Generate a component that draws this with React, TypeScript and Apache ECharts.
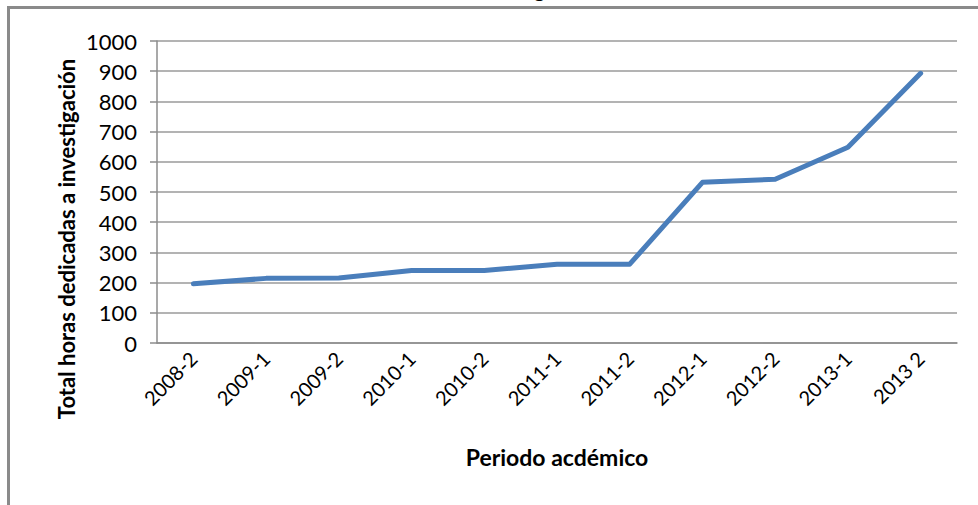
import React, { useEffect, useRef } from "react";
import * as echarts from "echarts";

const categories = ["2008-2", "2009-1", "2009-2", "2010-1", "2010-2", "2011-1", "2011-2", "2012-1", "2012-2", "2013-1", "2013 2"];
const hours = [196, 214, 215, 240, 240, 261, 261, 532, 542, 648, 893];
const yTicks = { min: 0, max: 1000, interval: 100 };
const titleText = "Investigación";
const yName = "Total horas dedicadas a investigación";
const xName = "Periodo acdémico";

const FONT = "Lato, 'Open Sans', sans-serif";

export default function App() {
  const ref = useRef<HTMLDivElement>(null);
  useEffect(() => {
    if (!ref.current) return;
    const chart = echarts.init(ref.current, null, { renderer: "svg" });
    chart.setOption({
      animation: false,
      backgroundColor: "#ffffff",
      grid: { left: 157, top: 41, right: 21, bottom: 162, containLabel: false },
      xAxis: {
        type: "category",
        data: categories,
        boundaryGap: true,
        axisLine: { show: true, lineStyle: { color: "#8c8c8c", width: 1.5 } },
        axisTick: { show: false },
        axisLabel: { rotate: 45, margin: 12, color: "#000", fontFamily: FONT, fontSize: 20, interval: 0 },
        splitLine: { show: false },
      },
      yAxis: {
        type: "value",
        min: yTicks.min,
        max: yTicks.max,
        interval: yTicks.interval,
        axisLine: { show: true, lineStyle: { color: "#8c8c8c", width: 1.5 } },
        axisTick: { show: true, length: 7, lineStyle: { color: "#8c8c8c", width: 1.5 } },
        axisLabel: {
          margin: 20,
          color: "#000",
          fontFamily: FONT,
          fontSize: 22,
          formatter: (v: number) => String(v),
        },
        splitLine: { show: true, lineStyle: { color: "#9a9a9a", width: 1.5 } },
      },
      series: [
        {
          type: "line",
          data: hours,
          symbol: "none",
          lineStyle: { color: "#4a7ebb", width: 5, cap: "round", join: "round" },
        },
      ],
      graphic: [
        {
          type: "rect",
          shape: { x: 8.5, y: 7.5, width: 1200, height: 800 },
          style: { fill: "none", stroke: "#8a8a8a", lineWidth: 3 },
          z: 1,
        },
        {
          type: "text",
          x: 533,
          y: -12,
          style: {
            text: titleText,
            fontFamily: FONT,
            fontWeight: "bold",
            fontSize: 22,
            fill: "#000",
            align: "center",
            verticalAlign: "middle",
          },
          z: 0,
        },
        {
          type: "text",
          x: 66,
          y: 239,
          rotation: Math.PI / 2,
          style: {
            text: yName,
            fontFamily: FONT,
            fontWeight: "bold",
            fontSize: 22,
            fill: "#000",
            align: "center",
            verticalAlign: "middle",
          },
        },
        {
          type: "text",
          x: 557,
          y: 457,
          style: {
            text: xName,
            fontFamily: FONT,
            fontWeight: "bold",
            fontSize: 23,
            fill: "#000",
            align: "center",
            verticalAlign: "middle",
          },
        },
      ],
    });
    return () => chart.dispose();
  }, []);
  return (
    <div
      ref={ref}
      style={{ position: "fixed", left: 0, top: 0, width: 978, height: 505 }}
    />
  );
}
